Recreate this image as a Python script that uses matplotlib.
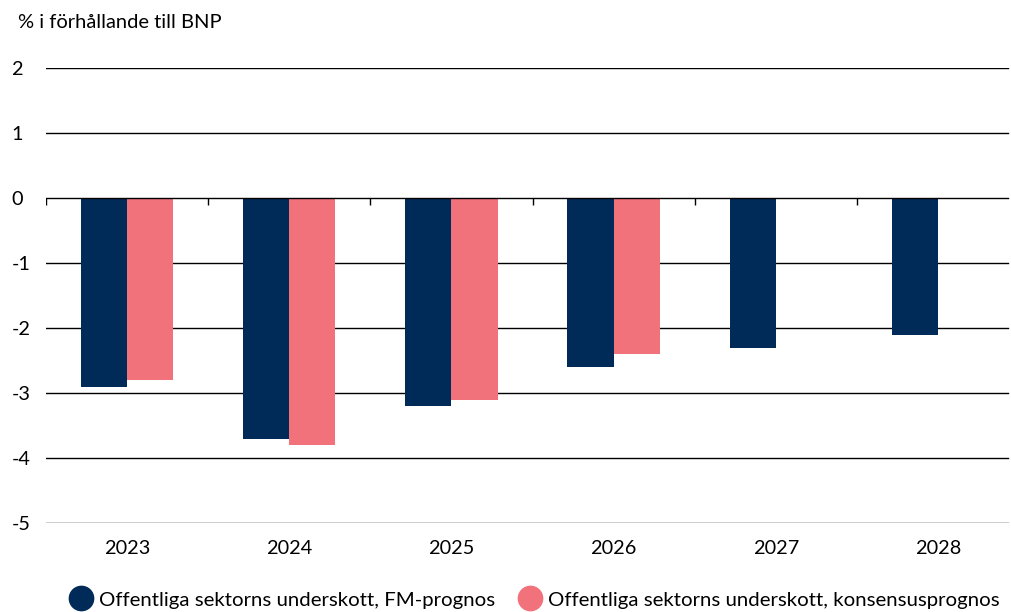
import numpy as np
import matplotlib.pyplot as plt
from matplotlib.lines import Line2D

plt.rcParams['font.family'] = ['Lato', 'DejaVu Sans']

years = ['2023', '2024', '2025', '2026', '2027', '2028']
fm_prognos = [-2.9, -3.7, -3.2, -2.6, -2.3, -2.1]
konsensus = [-2.8, -3.8, -3.1, -2.4]
labels = ['Offentliga sektorns underskott, FM-prognos',
          'Offentliga sektorns underskott, konsensusprognos']

navy = '#002A57'
pink = '#F2727B'

fig = plt.figure(figsize=(10.12, 6.12), dpi=100)
# the last year group runs a little past the right end of the grid lines
ax = fig.add_axes([46 / 1012, 89 / 612, 973 / 1012, 455 / 612])

x = np.arange(len(years))
w = 0.285
ax.bar(x - w / 2, fm_prognos, w, color=navy, zorder=3)
ax.bar(x[:len(konsensus)] + w / 2, konsensus, w, color=pink, zorder=3)

ax.set_xlim(-0.5, len(years) - 0.5)
ax.set_ylim(-5, 2)
grid_end = 962 / 973
for yv in range(-5, 3):
    ax.axhline(yv, xmax=grid_end, color='black', lw=1,
               zorder=4 if yv == 0 else 1)

# small marks between the year groups on the zero line
ax.vlines(np.arange(len(years)) - 0.5, -0.1, 0, color='black', lw=1, zorder=4)

for s in ax.spines.values():
    s.set_visible(False)
ax.set_yticks(range(-5, 3))
ax.set_yticklabels([str(v) for v in range(-5, 3)], fontsize=14.3, ha='left')
ax.tick_params(axis='y', length=0, pad=25)
ax.set_xticks(x)
ax.set_xticklabels(years, fontsize=14.3)
ax.tick_params(axis='x', length=0, pad=12)

fig.text(18 / 1012, 1 - 22 / 612, '% i förhållande till BNP', fontsize=14.5,
         va='center', ha='left')

handles = [Line2D([], [], marker='o', ls='', color=c, markersize=17.5)
           for c in (navy, pink)]
fig.legend(handles, labels, loc='center', bbox_to_anchor=(0.528, 1 - 600 / 612),
           ncol=2, frameon=False, fontsize=14.7, handletextpad=0.3,
           columnspacing=1.1, handlelength=1.2)

fig.savefig('out.png', dpi=100)
